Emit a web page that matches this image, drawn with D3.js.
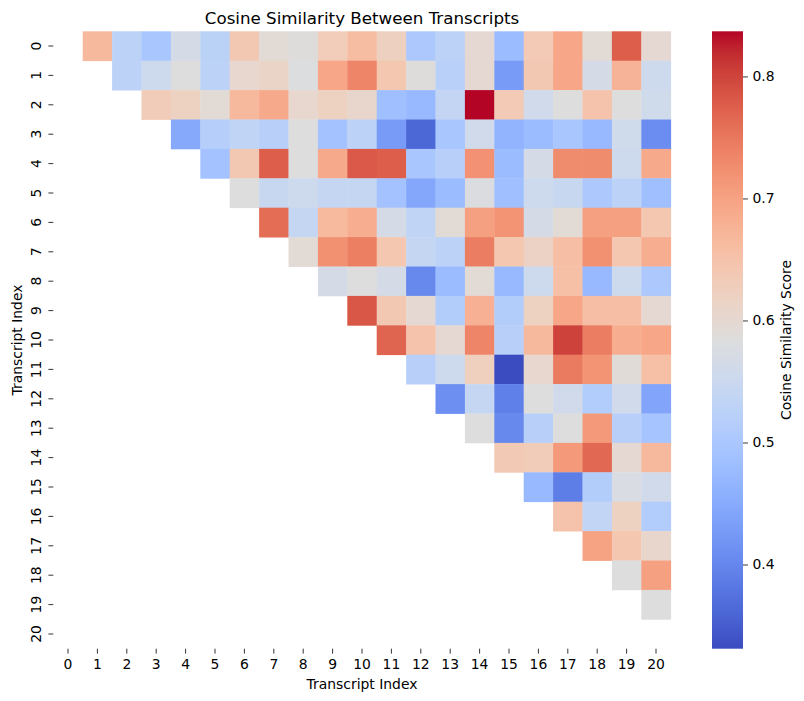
<!DOCTYPE html>
<html>
<head>
<meta charset="utf-8">
<script src="https://cdn.jsdelivr.net/npm/d3@7"></script>
<style>
  html, body { margin: 0; padding: 0; background: #fff; }
  svg text { font-family: "DejaVu Sans", sans-serif; fill: #000; }
</style>
</head>
<body>
<svg id="chart" width="804" height="701"></svg>
<script>
// ---- data ----
const indexLabels = d3.range(21).map(String);
// row i holds similarity with columns i+1 .. 20 (upper triangle)
const row0  = [0.667,0.528,0.498,0.566,0.526,0.640,0.594,0.586,0.630,0.660,0.622,0.503,0.528,0.599,0.478,0.635,0.693,0.594,0.776,0.599];
const row1  = [0.528,0.554,0.584,0.528,0.604,0.612,0.581,0.695,0.736,0.642,0.586,0.523,0.599,0.427,0.640,0.695,0.569,0.675,0.554];
const row2  = [0.632,0.619,0.594,0.667,0.690,0.604,0.619,0.607,0.483,0.473,0.538,0.837,0.635,0.559,0.584,0.650,0.584,0.558];
const row3  = [0.447,0.518,0.533,0.521,0.584,0.490,0.528,0.427,0.361,0.498,0.559,0.465,0.478,0.498,0.473,0.558,0.409];
const row4  = [0.490,0.640,0.776,0.584,0.690,0.781,0.776,0.498,0.521,0.721,0.478,0.566,0.728,0.728,0.554,0.690];
const row5  = [0.584,0.546,0.554,0.541,0.541,0.490,0.445,0.478,0.579,0.483,0.554,0.546,0.503,0.528,0.483];
const row6  = [0.761,0.541,0.665,0.685,0.566,0.533,0.594,0.703,0.718,0.566,0.594,0.703,0.703,0.642];
const row7  = [0.594,0.723,0.743,0.642,0.541,0.528,0.744,0.642,0.617,0.657,0.723,0.642,0.685];
const row8  = [0.569,0.584,0.566,0.402,0.478,0.594,0.473,0.554,0.655,0.473,0.554,0.503];
const row9  = [0.783,0.640,0.599,0.513,0.680,0.513,0.619,0.695,0.657,0.657,0.599];
const row10 = [0.769,0.650,0.599,0.736,0.521,0.667,0.802,0.744,0.685,0.695];
const row11 = [0.521,0.554,0.625,0.331,0.604,0.746,0.718,0.591,0.655];
const row12 = [0.412,0.541,0.392,0.584,0.559,0.511,0.559,0.442];
const row13 = [0.584,0.402,0.521,0.584,0.711,0.521,0.493];
const row14 = [0.637,0.632,0.711,0.766,0.599,0.667];
const row15 = [0.473,0.389,0.513,0.576,0.561];
const row16 = [0.650,0.536,0.619,0.511];
const row17 = [0.698,0.642,0.607];
const row18 = [0.584,0.703];
const row19 = [0.584];
const row20 = [];
const rows = [row0,row1,row2,row3,row4,row5,row6,row7,row8,row9,row10,row11,row12,row13,row14,row15,row16,row17,row18,row19,row20];
const colorbarTicks = [0.4, 0.5, 0.6, 0.7, 0.8];

// matplotlib "coolwarm" control colours
const coolwarm = ["#3b4cc0","#445acc","#4d68d7","#5775e1","#6282ea","#6c8ef1","#779af7","#82a5fb","#8db0fe","#98b9ff","#a3c2ff","#aec9fd","#b8d0f9","#c2d5f4","#ccd9ee","#d5dbe6","#dddddd","#e5d8d1","#ecd3c5","#f1ccb9","#f5c4ad","#f7bba0","#f7b194","#f7a687","#f49a7b","#f18d6f","#ec7f63","#e57058","#de604d","#d55042","#cb3e38","#c0282f","#b40426"];

// ---- layout ----
const svg = d3.select("#chart");
const L = 53.3, R = 670.7, T = 31.3, B = 648.7;
const cbL = 712, cbR = 743;

const cells = [];
rows.forEach((vals, i) => vals.forEach((v, k) => cells.push({ r: i, c: i + 1 + k, v })));
const ext = d3.extent(cells, d => d.v);

const x = d3.scaleBand().domain(indexLabels).range([L, R]).paddingInner(0).paddingOuter(0);
const y = d3.scaleBand().domain(indexLabels).range([T, B]).paddingInner(0).paddingOuter(0);
const interp = d3.piecewise(d3.interpolateRgb, coolwarm);
const color = d3.scaleSequential(interp).domain(ext);

// cells
svg.append("g").selectAll("rect").data(cells).join("rect")
  .attr("x", d => x(String(d.c)))
  .attr("y", d => y(String(d.r)))
  .attr("width", x.bandwidth() + 0.4)
  .attr("height", y.bandwidth() + 0.4)
  .attr("fill", d => color(d.v));

// x axis
const xAxis = svg.append("g").attr("transform", `translate(0,${B})`)
  .call(d3.axisBottom(x).tickSize(4.9).tickPadding(3.5));
xAxis.select(".domain").remove();
xAxis.selectAll("line").attr("stroke", "#000").attr("stroke-width", 0.8);
xAxis.selectAll("text").attr("font-size", "13.9px").attr("y", 20.1).attr("dy", 0)
  .style("font-family", "DejaVu Sans");

// y axis (rotated tick labels)
const yAxis = svg.append("g").attr("transform", `translate(${L},0)`)
  .call(d3.axisLeft(y).tickSize(4.9).tickPadding(3.5));
yAxis.select(".domain").remove();
yAxis.selectAll("line").attr("stroke", "#000").attr("stroke-width", 0.8);
yAxis.selectAll("text")
  .attr("font-size", "13.9px")
  .attr("x", null).attr("dy", null)
  .attr("text-anchor", "middle")
  .attr("transform", `translate(${36 - L},0) rotate(-90)`)
  .attr("dy", "0.35em")
  .style("font-family", "DejaVu Sans");

// title and labels
svg.append("text").attr("x", (L + R) / 2).attr("y", 23.5)
  .attr("text-anchor", "middle").attr("font-size", "16.7px")
  .text("Cosine Similarity Between Transcripts");
svg.append("text").attr("x", (L + R) / 2).attr("y", 688.5)
  .attr("text-anchor", "middle").attr("font-size", "13.9px")
  .text("Transcript Index");
svg.append("text").attr("transform", `translate(21.5,${(T + B) / 2}) rotate(-90)`)
  .attr("text-anchor", "middle").attr("font-size", "13.9px")
  .text("Transcript Index");

// colorbar
const defs = svg.append("defs");
const grad = defs.append("linearGradient").attr("id", "cbgrad")
  .attr("x1", 0).attr("y1", 1).attr("x2", 0).attr("y2", 0);
coolwarm.forEach((c, i) => grad.append("stop")
  .attr("offset", i / (coolwarm.length - 1)).attr("stop-color", c));
svg.append("rect").attr("x", cbL).attr("y", T).attr("width", cbR - cbL).attr("height", B - T)
  .attr("fill", "url(#cbgrad)");
const cbScale = d3.scaleLinear().domain(ext).range([B, T]);
const cbAxis = svg.append("g").attr("transform", `translate(${cbR},0)`)
  .call(d3.axisRight(cbScale).tickValues(colorbarTicks).tickFormat(d3.format(".1f")).tickSize(4.9).tickPadding(4.5));
cbAxis.select(".domain").remove();
cbAxis.selectAll("line").attr("stroke", "#000").attr("stroke-width", 0.8);
cbAxis.selectAll("text").attr("font-size", "13.9px").style("font-family", "DejaVu Sans");
svg.append("text").attr("transform", `translate(791,${(T + B) / 2}) rotate(-90)`)
  .attr("text-anchor", "middle").attr("font-size", "13.9px")
  .text("Cosine Similarity Score");
</script>
</body>
</html>
